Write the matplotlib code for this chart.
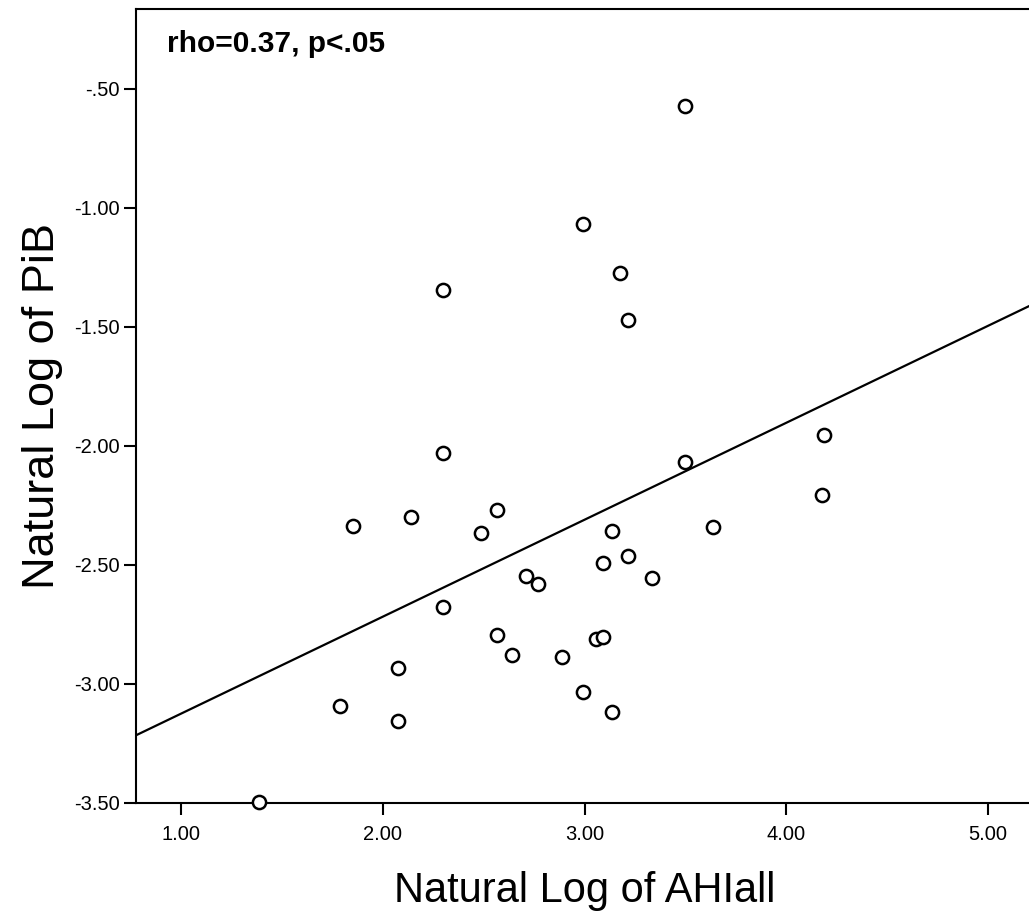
import numpy as np
import matplotlib
matplotlib.use("Agg")
from matplotlib import pyplot as plt
from matplotlib.ticker import FuncFormatter

# data (ln AHIall vs ln PiB)
ln_ahi = [3.495, 2.994, 3.175, 3.217, 2.300, 2.300, 1.854, 2.138, 2.564, 2.484,
          2.707, 2.771, 3.134, 3.217, 3.090, 3.333, 3.497, 3.638, 4.188, 4.175,
          2.300, 2.564, 2.639, 2.889, 3.055, 3.090, 2.994, 3.134, 2.077, 1.789,
          2.077, 1.388]
ln_pib = [-0.572, -1.070, -1.276, -1.472, -1.346, -2.031, -2.337, -2.300, -2.270, -2.367,
          -2.545, -2.580, -2.358, -2.461, -2.493, -2.557, -2.067, -2.340, -1.955, -2.207,
          -2.678, -2.793, -2.878, -2.885, -2.811, -2.801, -3.032, -3.116, -2.933, -3.091,
          -3.154, -3.494]

x_ticks = [1.0, 2.0, 3.0, 4.0, 5.0]
y_ticks = [-3.5, -3.0, -2.5, -2.0, -1.5, -1.0, -0.5]
annot = "rho=0.37, p<.05"

plt.rcParams['font.family'] = ['Liberation Sans', 'DejaVu Sans']

fig = plt.figure(figsize=(10.29, 9.13), dpi=100)
ax = fig.add_axes([0.1319, 0.1205, 0.873, 0.8693])

ax.plot(ln_ahi, ln_pib, linestyle='none', marker='o', markersize=9.5,
        markerfacecolor='white', markeredgecolor='black', markeredgewidth=1.8,
        clip_on=False, zorder=3)

# 拟合直线
slope, intercept = np.polyfit(ln_ahi, ln_pib, 1)
xmin, xmax = 0.7755, 5.227
xs = np.array([xmin, xmax])
ax.plot(xs, intercept + slope * xs, color='black', linewidth=1.6, zorder=2)

ax.set_xlim(xmin, xmax)
ax.set_ylim(-3.5, -0.1675)
ax.set_xticks(x_ticks)
ax.set_yticks(y_ticks)

def fmt_y(v, pos):
    s = "%.2f" % v
    return s.replace("-0.", "-.")

ax.yaxis.set_major_formatter(FuncFormatter(fmt_y))
ax.xaxis.set_major_formatter(FuncFormatter(lambda v, p: "%.2f" % v))

ax.spines['right'].set_visible(False)
for s in ['left', 'bottom', 'top']:
    ax.spines[s].set_linewidth(1.5)
ax.tick_params(direction='out', length=8.5, width=1.5, labelsize=14.5, pad=3)
ax.tick_params(axis='x', pad=7)

ax.set_xlabel("Natural Log of AHIall", fontsize=30, labelpad=20)
ax.set_ylabel("Natural Log of PiB", fontsize=32.5, labelpad=8)

ax.text(0.0348, 0.946, annot, transform=ax.transAxes, fontsize=21.5,
        fontweight='bold', va='baseline', ha='left')

fig.savefig("out.png", dpi=100)
